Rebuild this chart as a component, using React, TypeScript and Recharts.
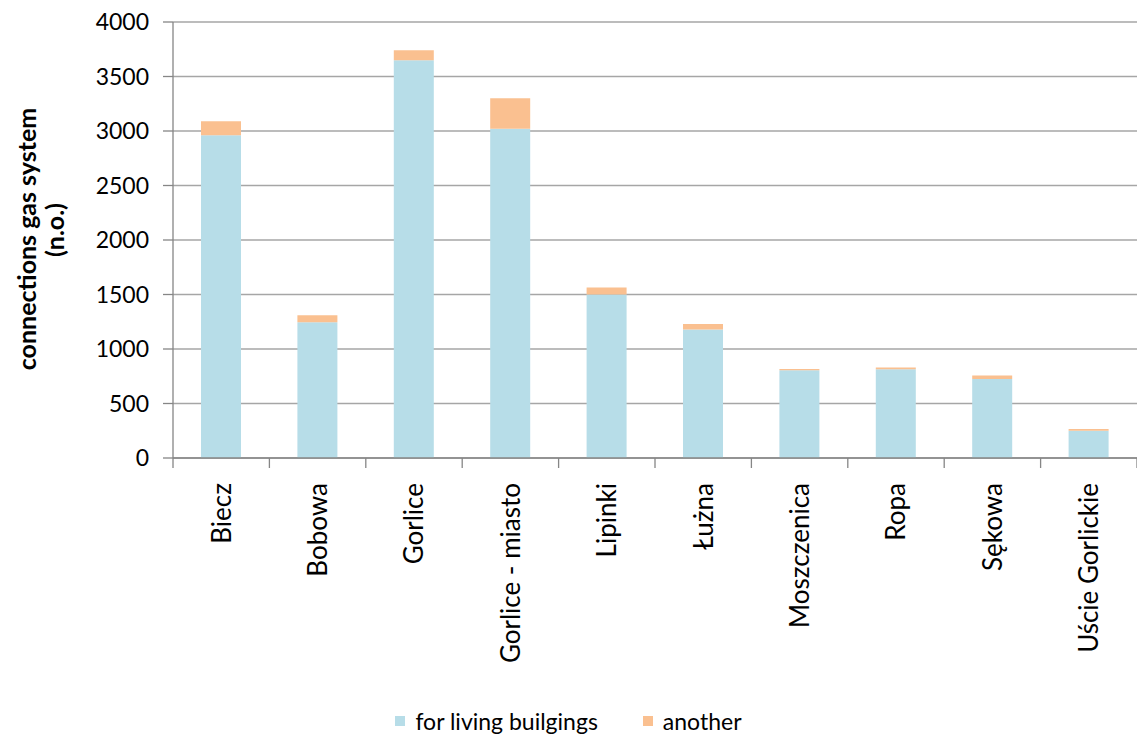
import { BarChart, Bar, XAxis, YAxis, CartesianGrid } from 'recharts'

const communes = [
  'Biecz',
  'Bobowa',
  'Gorlice',
  'Gorlice - miasto',
  'Lipinki',
  'Łużna',
  'Moszczenica',
  'Ropa',
  'Sękowa',
  'Uście Gorlickie',
]
const livingBuildings = [2960, 1245, 3650, 3020, 1500, 1180, 805, 815, 725, 250]
const another = [130, 65, 90, 280, 65, 50, 12, 15, 33, 15]
const yTicks = [0, 500, 1000, 1500, 2000, 2500, 3000, 3500, 4000]

const BLUE = '#b7dde8'
const ORANGE = '#fac090'
const AXIS = '#868686'
const FONT = 'Lato, "Open Sans", sans-serif'

const chartData = communes.map((name, i) => ({
  name,
  living: livingBuildings[i],
  another: another[i],
}))

// category labels rotated, with tick marks on the band edges
const CategoryTick = ({ x, y, payload, index }: any) => {
  const half = payload.offset ?? 48
  return (
    <g>
      <line x1={x - half} y1={y} x2={x - half} y2={y + 10} stroke={AXIS} strokeWidth={1.3} />
      {index === communes.length - 1 && (
        <line x1={x + half} y1={y} x2={x + half} y2={y + 10} stroke={AXIS} strokeWidth={1.3} />
      )}
      <text
        x={x}
        y={y + 25}
        transform={`rotate(-90, ${x}, ${y + 25})`}
        textAnchor="end"
        dy="0.36em"
        fill="#000"
        fontSize={26}
        fontFamily={FONT}
      >
        {payload.value}
      </text>
    </g>
  )
}

const AxisTitle = () => (
  <g fontFamily={FONT} fontWeight="bold" fontSize={25} fill="#000">
    <text x={27} y={239} transform="rotate(-90, 27, 239)" textAnchor="middle" dy="0.35em">
      connections gas system
    </text>
    <text x={55} y={230} transform="rotate(-90, 55, 230)" textAnchor="middle" dy="0.35em">
      (n.o.)
    </text>
  </g>
)

const legendItems = [
  { label: 'for living builgings', color: BLUE },
  { label: 'another', color: ORANGE },
]

export default function App() {
  return (
    <div style={{ position: 'absolute', left: 0, top: 0, width: 1137, height: 736, background: '#fff' }}>
      <BarChart
        width={1137}
        height={736}
        data={chartData}
        margin={{ top: 22, right: 0, left: 0, bottom: 0 }}
        barSize={40}
      >
        <CartesianGrid vertical={false} stroke="#a6a6a6" strokeWidth={1.5} />
        <XAxis
          dataKey="name"
          interval={0}
          height={278}
          tickSize={0}
          tickMargin={0}
          axisLine={{ stroke: AXIS, strokeWidth: 1.3 }}
          tickLine={false}
          tick={<CategoryTick />}
        />
        <YAxis
          width={173}
          domain={[0, 4000]}
          ticks={yTicks}
          interval={0}
          tickSize={10}
          tickMargin={14}
          axisLine={{ stroke: AXIS, strokeWidth: 1.3 }}
          tickLine={{ stroke: AXIS, strokeWidth: 1.3 }}
          tick={{ fill: '#000', fontSize: 23, fontFamily: FONT }}
          label={<AxisTitle />}
        />
        <Bar dataKey="living" stackId="a" fill={BLUE} name="for living builgings" isAnimationActive={false} />
        <Bar dataKey="another" stackId="a" fill={ORANGE} name="another" isAnimationActive={false} />
      </BarChart>
      <div
        style={{
          position: 'absolute',
          top: 707,
          left: 0,
          width: 1137,
          display: 'flex',
          justifyContent: 'center',
          alignItems: 'center',
          fontFamily: FONT,
          fontSize: 23,
          lineHeight: '28px',
          color: '#000',
        }}
      >
        {legendItems.map((item, i) => (
          <div key={item.label} style={{ display: 'flex', alignItems: 'center', marginLeft: i ? 45 : 0 }}>
            <span style={{ width: 10, height: 10, background: item.color, marginRight: 10 }} />
            <span>{item.label}</span>
          </div>
        ))}
      </div>
    </div>
  )
}
